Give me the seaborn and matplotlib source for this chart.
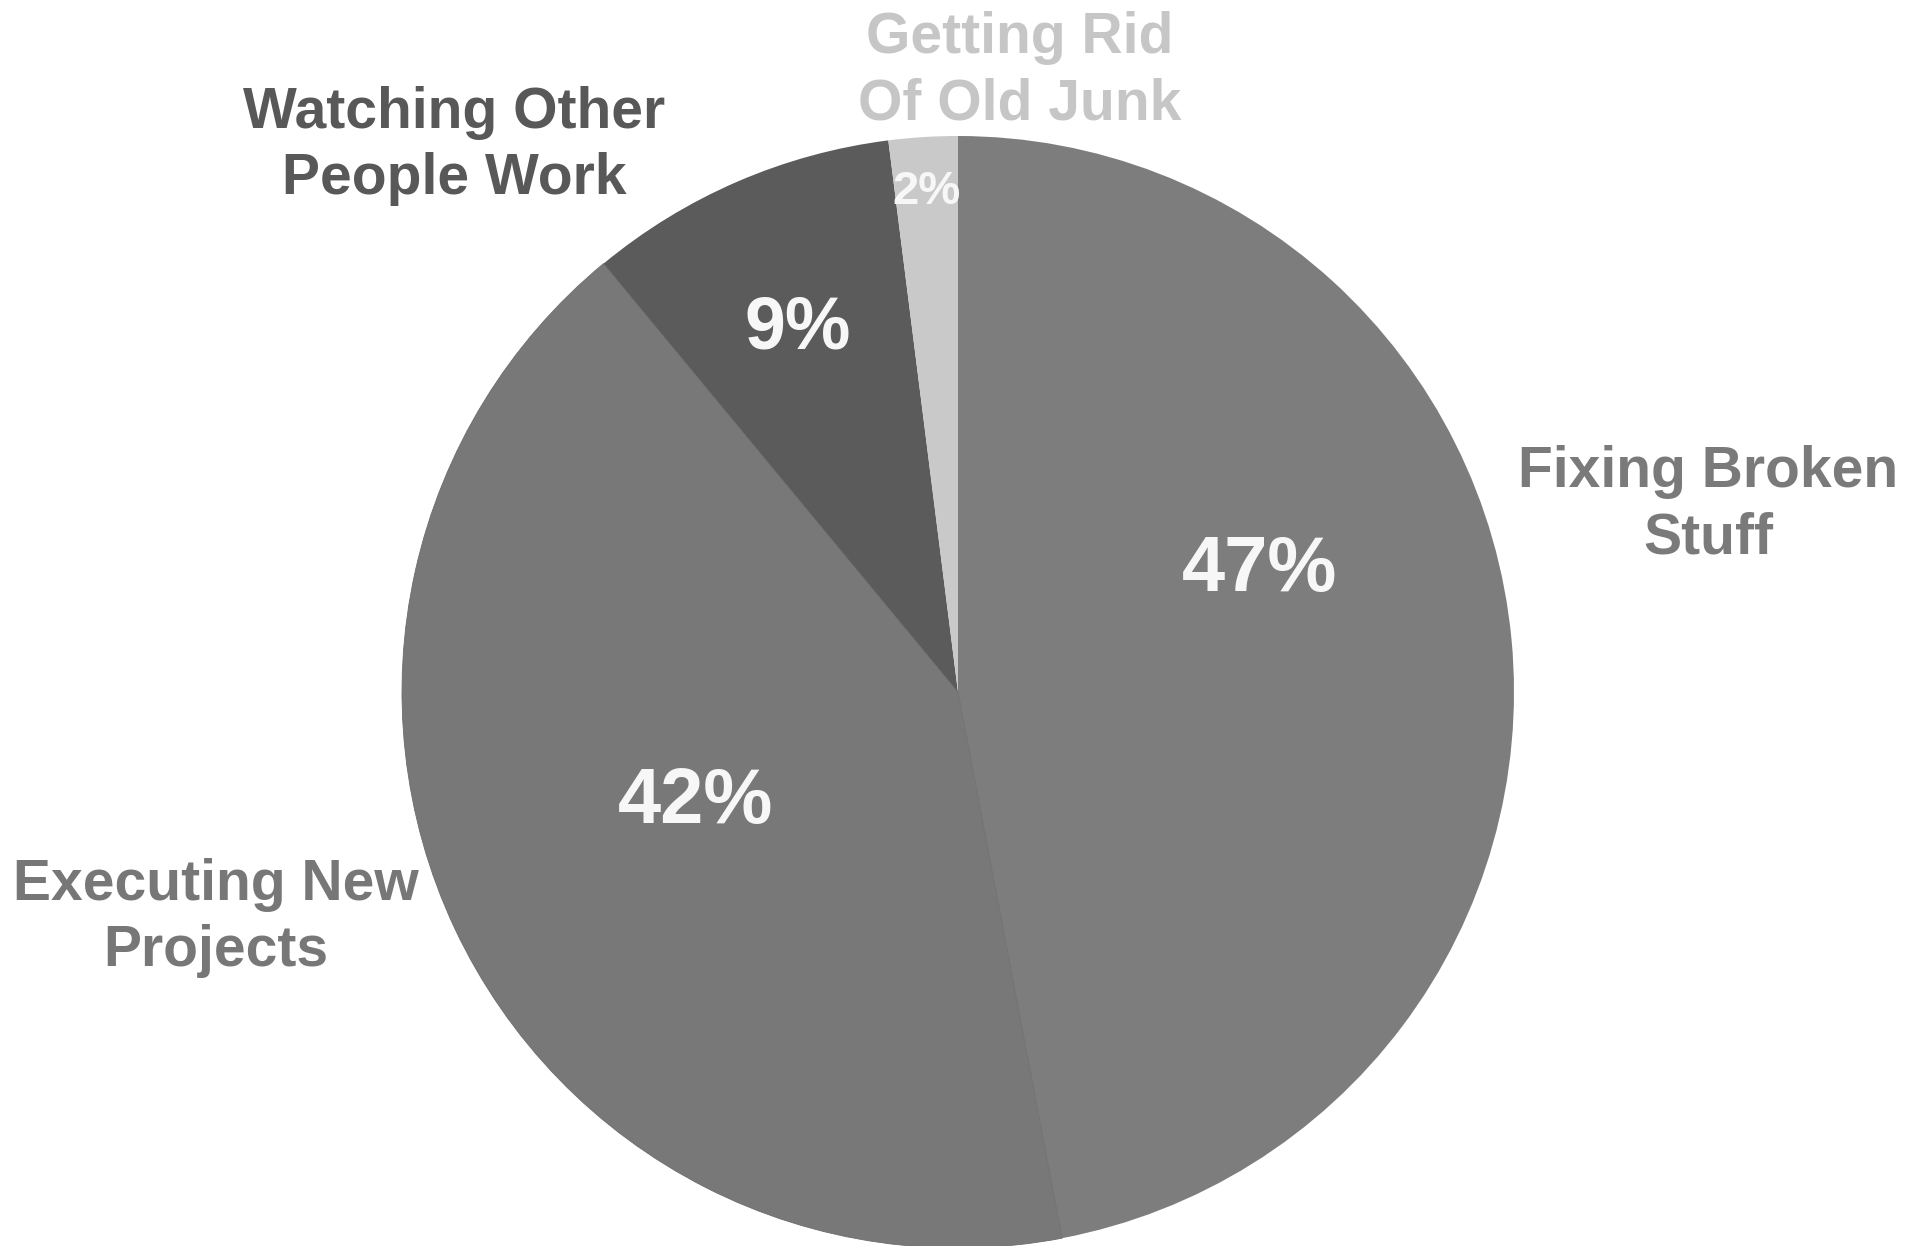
import matplotlib
matplotlib.use("Agg")
import matplotlib.pyplot as plt
import seaborn as sns

# Share of time spent on each activity
categories = ["Fixing Broken\nStuff", "Executing New\nProjects",
              "Watching Other\nPeople Work", "Getting Rid\nOf Old Junk"]
shares = [47, 42, 9, 2]
slice_colors = ["#7d7d7d", "#787878", "#5b5b5b", "#c9c9c9"]
label_colors = ["#7a7a7a", "#777777", "#585858", "#c6c6c6"]

sns.set_theme(style="white")
plt.rcParams["font.family"] = ["Liberation Sans", "DejaVu Sans"]

W, H = 1920, 1246
fig = plt.figure(figsize=(W / 100, H / 100), dpi=100)
ax = fig.add_axes([0, 0, 1, 1])

cx, cy, r = 958, H - 692, 556
wedges, texts, autotexts = ax.pie(
    shares, colors=slice_colors, startangle=90, counterclock=False,
    radius=r, center=(cx, cy), autopct="%d%%",
    wedgeprops=dict(linewidth=0),
    textprops=dict(color="#f7f7f7", fontweight="bold"),
)
# faint seam between the two large slices
wedges[1].set_edgecolor("#6c6c6c")
wedges[1].set_linewidth(0.6)

# Percentage labels inside the slices
pct_pos = [(302, 122), (-262, -110), (-160, 363), (-31, 500)]
pct_size = [56, 56, 53, 34]
for t, (dx, dy), s in zip(autotexts, pct_pos, pct_size):
    t.set_position((cx + dx, cy + dy))
    t.set_fontsize(s)
    t.set_ha("center")
    t.set_va("center")

# Category labels around the pie
label_pos = [(1708, H - 505), (216, H - 918), (454, H - 146), (1020, H - 71)]
for name, (x, y), c in zip(categories, label_pos, label_colors):
    ax.text(x, y, name, ha="center", va="center", fontsize=41,
            fontweight="bold", color=c, linespacing=1.3)

ax.set_xlim(0, W)
ax.set_ylim(0, H)
ax.set_aspect("equal")
ax.axis("off")

fig.savefig("out.png", dpi=100, facecolor="white")
